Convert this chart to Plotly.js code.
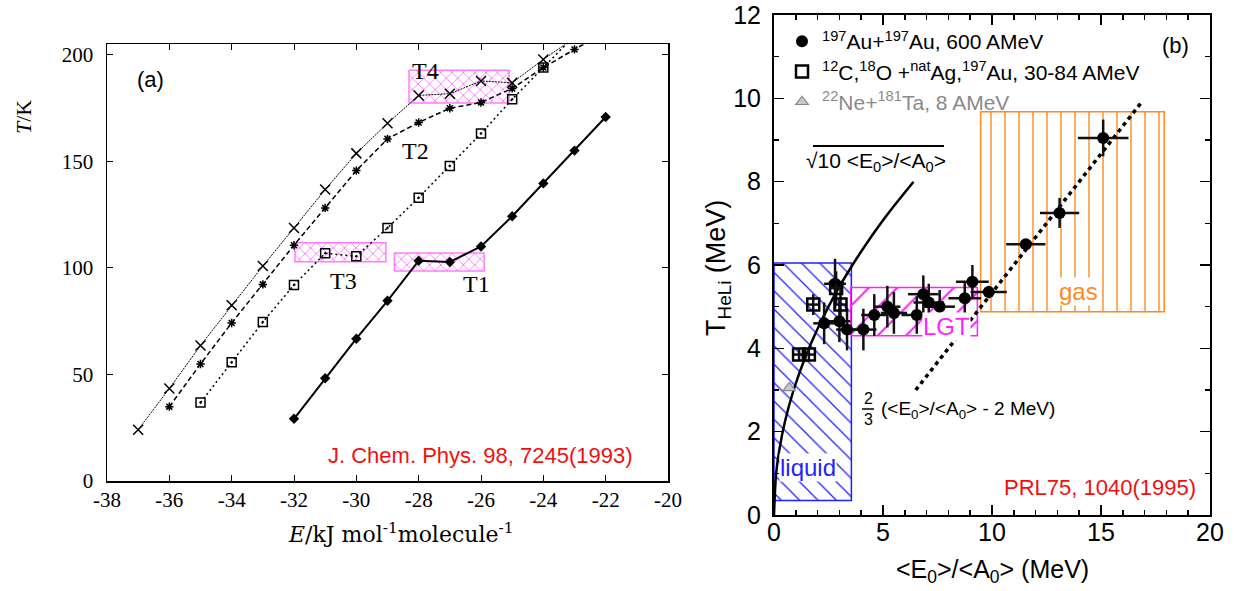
<!DOCTYPE html>
<html><head><meta charset="utf-8">
<script src="https://cdn.plot.ly/plotly-3.0.1.min.js"></script>
<style>html,body{margin:0;padding:0;background:#fff}</style>
</head><body><div id="chart" style="width:1236px;height:591px"></div>
<script>
// ================= Panel (a) data =================
const aEnergy = [-37,-36,-35,-34,-33,-32,-31,-30,-29,-28,-27,-26,-25,-24,-23,-22];
const aCrossT   = [24.1,43.4,63.6,82.5,100.9,118.8,136.8,153.8,167.9,181.0,181.8,187.8,186.9,197.9,208,null];
const aStarT    = [null,34.9,54.9,74.2,92.3,110.7,128.2,145.7,160.6,168.3,175.0,177.7,184.3,194.1,202.6,211];
const aSquareT  = [null,null,36.8,55.7,74.6,92.0,106.9,105.5,118.8,133.0,147.9,163.1,179.2,194.1,209,null];
const aDiamondT = [null,null,null,null,null,29.2,48.2,66.8,84.6,103.4,102.8,110.1,124.3,139.7,155.1,170.9];
const aTickVals = [-38,-36,-34,-32,-30,-28,-26,-24,-22,-20];
const aTickText = ["-38","-36","-34","-32","-30","-28","-26","-24","-22","-20"];
// hatched transition regions (E from, E to, T from, T to)
const aBoxName = ["T4","T3","T1"];
const aBoxE0 = [-28.31,-31.97,-28.78];
const aBoxE1 = [-25.10,-29.05,-25.90];
const aBoxT0 = [177.4,102.9,98.6];
const aBoxT1 = [192.8,111.9,107.0];
// labels
const aLabelText = ["T4","T2","T3","T1"];
const aLabelE = [-27.78,-28.09,-30.40,-26.14];
const aLabelT = [192.6,155.0,93.9,92.5];

// ================= Panel (b) data =================
const auX  = [2.3,2.8,3.0,3.35,4.1,4.6,5.2,5.5,6.55,6.85,7.1,7.6,8.75,9.1,9.85,11.55,13.1,15.1];
const auY  = [4.6,5.55,4.65,4.45,4.45,4.8,5.0,4.85,4.8,5.3,5.1,5.0,5.2,5.6,5.35,6.5,7.25,9.05];
const auXe = [0.5,0.5,0.5,0.5,0.6,0.6,0.6,0.6,0.7,0.7,0.7,0.7,0.75,0.75,0.83,0.9,0.9,1.16];
const auYe = [0.5,0.6,0.5,0.5,0.5,0.5,0.5,0.5,0.45,0.45,0.45,0.4,0.4,0.4,0.15,0.1,0.36,0.44];
const sqX  = [1.15,1.6,1.8,2.85,3.05];
const sqY  = [3.85,3.85,5.05,5.45,5.05];
const sqXe = [0.25,0.25,0.3,0.3,0.3];
const sqYe = [0.15,0.15,0.25,0.4,0.4];
const neX = [0.7];
const neY = [3.05];
const curveX = [0,0.1,0.25,0.5,0.9,1.4,2.0,2.5,3.0,3.6,4.2,4.9,5.6,6.4];
const curveY = [0,1.0,1.58,2.24,3.0,3.74,4.47,5.0,5.48,6.0,6.48,7.0,7.48,8.0];
const fitX = [6.5,16.85];
const fitY = [3.0,9.9];
// phase regions (x from, x to, y from, y to)
const bBoxName = ["liquid","LGT","gas"];
const bBoxX0 = [0.0,3.52,9.48];
const bBoxX1 = [3.55,9.33,17.9];
const bBoxY0 = [0.35,4.30,4.88];
const bBoxY1 = [6.05,5.46,9.68];
const bBoxColor = ["#1f1fff","#ff1fff","#ff8a1a"];
const bBoxPattern = ["\\","/","|"];
const bBoxLabelX = [1.55,7.92,13.96];
const bBoxLabelY = [1.13,4.52,5.36];

// ================= helpers (pixel -> paper) =================
const W = 1236, H = 591;
const px = x => x / W;
const py = y => 1 - y / H;
const serif = "Liberation Serif";
const wideSerif = "DejaVu Serif";
const sans = "Liberation Sans, Arial";

const traces = [];
traces.push({
  type: "bar", xaxis: "x", yaxis: "y", showlegend: false, hoverinfo: "skip",
  x: aBoxE0.map((v, i) => (v + aBoxE1[i]) / 2),
  width: aBoxE0.map((v, i) => aBoxE1[i] - v),
  base: aBoxT0,
  y: aBoxT0.map((v, i) => aBoxT1[i] - v),
  marker: { color: "#ff5cff", line: { color: "#ff7cff", width: 1.5 },
            pattern: { shape: "x", size: 8, solidity: 0.18, fillmode: "replace" } }
});
bBoxName.forEach((n, i) => {
  traces.push({
    type: "bar", xaxis: "x2", yaxis: "y2", showlegend: false, hoverinfo: "skip",
    x: [(bBoxX0[i] + bBoxX1[i]) / 2], width: [bBoxX1[i] - bBoxX0[i]],
    base: [bBoxY0[i]], y: [bBoxY1[i] - bBoxY0[i]],
    marker: { color: bBoxColor[i], line: { color: bBoxColor[i], width: 1.5 },
              pattern: { shape: bBoxPattern[i], size: i === 1 ? 20 : (i === 0 ? 13 : 14), solidity: 0.1, fillmode: "replace" } }
  });
});
traces.push({ x: aEnergy, y: aCrossT, xaxis: "x", yaxis: "y", mode: "lines+markers", showlegend: false,
  line: { color: "#000", width: 1, dash: "2px,1px" },
  marker: { symbol: "x-thin", size: 10, line: { color: "#000", width: 1.5 } } });
traces.push({ x: aEnergy, y: aStarT, xaxis: "x", yaxis: "y", mode: "lines+markers", showlegend: false,
  line: { color: "#000", width: 1.5, dash: "5px,3px" },
  marker: { symbol: "asterisk", size: 7, line: { color: "#000", width: 1.5 } } });
traces.push({ x: aEnergy, y: aSquareT, xaxis: "x", yaxis: "y", mode: "lines+markers", showlegend: false,
  line: { color: "#000", width: 1.5, dash: "2px,3px" },
  marker: { symbol: "square-open-dot", size: 9, color: "#000", line: { color: "#000", width: 1.5 } } });
traces.push({ x: aEnergy, y: aDiamondT, xaxis: "x", yaxis: "y", mode: "lines+markers", showlegend: false,
  line: { color: "#000", width: 2 },
  marker: { symbol: "diamond", size: 8, color: "#000" } });

traces.push({ x: curveX, y: curveY, xaxis: "x2", yaxis: "y2", mode: "lines", showlegend: false,
  line: { color: "#000", width: 2.5, shape: "spline" } });
traces.push({ x: fitX, y: fitY, xaxis: "x2", yaxis: "y2", mode: "lines", showlegend: false,
  line: { color: "#000", width: 3.5, dash: "4px,4px" } });
traces.push({ x: auX, y: auY, xaxis: "x2", yaxis: "y2", mode: "markers",
  name: "<sup>197</sup>Au+<sup>197</sup>Au, 600 AMeV",
  error_x: { type: "data", array: auXe, color: "#111", thickness: 2.5, width: 0 },
  error_y: { type: "data", array: auYe, color: "#111", thickness: 2.5, width: 0 },
  marker: { symbol: "circle", size: 12, color: "#000" } });
traces.push({ x: sqX, y: sqY, xaxis: "x2", yaxis: "y2", mode: "markers",
  name: "<sup>12</sup>C,<sup>18</sup>O +<sup>nat</sup>Ag,<sup>197</sup>Au, 30-84 AMeV",
  error_x: { type: "data", array: sqXe, color: "#111", thickness: 2.5, width: 0 },
  error_y: { type: "data", array: sqYe, color: "#111", thickness: 2.5, width: 0 },
  marker: { symbol: "square-open", size: 12, color: "#000", line: { color: "#000", width: 2.5 } } });
traces.push({ x: neX, y: neY, xaxis: "x2", yaxis: "y2", mode: "markers",
  name: "<span style='color:#8a8a8a'><sup>22</sup>Ne+<sup>181</sup>Ta, 8 AMeV</span>",
  marker: { symbol: "triangle-up", size: 11, color: "#c8c8c8", line: { color: "#888", width: 1.2 } } });

const annotations = [];
function note(x, y, text, font, extra) {
  annotations.push(Object.assign({ xref: "paper", yref: "paper", x: px(x), y: py(y), text: text,
    showarrow: false, xanchor: "center", yanchor: "middle", font: font }, extra || {}));
}
aLabelText.forEach((t, i) => annotations.push({ xref: "x", yref: "y", x: aLabelE[i], y: aLabelT[i],
  xanchor: "center", yanchor: "middle",
  text: t, showarrow: false, font: { family: serif, size: 24, color: "#000" } }));
note(150, 79, "(a)", { family: sans, size: 22, color: "#000" });
note(480, 455, "J. Chem. Phys. 98, 7245(1993)", { family: sans, size: 22, color: "#f01010" });
note(23, 117, "<i>T</i>/K", { family: serif, size: 22, color: "#000" }, { textangle: -90 });
note(400, 533, "<i>E</i>/kJ mol<sup>-1</sup>molecule<sup>-1</sup>", { family: wideSerif, size: 22, color: "#000" });

bBoxName.forEach((n, i) => annotations.push({ xref: "x2", yref: "y2", x: bBoxLabelX[i], y: bBoxLabelY[i],
  xanchor: "center", yanchor: "middle",
  text: n, showarrow: false, bgcolor: "#fff", borderpad: 0,
  font: { family: sans, size: 24, color: bBoxColor[i] } }));
note(876, 162, "√10 &lt;E<sub>0</sub>&gt;/&lt;A<sub>0</sub>&gt;", { family: sans, size: 21, color: "#000" });
note(868, 409, "2<br>3", { family: sans, size: 16, color: "#000" });
note(879, 410, "(&lt;E<sub>0</sub>&gt;/&lt;A<sub>0</sub>&gt; - 2 MeV)", { family: sans, size: 19, color: "#000" }, { xanchor: "left" });
note(1198, 487, "PRL75, 1040(1995)", { family: sans, size: 22, color: "#f01010" }, { xanchor: "right" });
note(1175, 45, "(b)", { family: sans, size: 22, color: "#000" });
note(718, 268, "T<sub>HeLi</sub> (MeV)", { family: sans, size: 27, color: "#000" }, { textangle: -90 });
note(992, 571, "&lt;E<sub>0</sub>&gt;/&lt;A<sub>0</sub>&gt; (MeV)", { family: sans, size: 25, color: "#000" });

const shapes = [
  { type: "line", xref: "paper", yref: "paper", x0: px(813), x1: px(944), y0: py(146), y1: py(146), line: { color: "#000", width: 2 } },
  { type: "line", xref: "paper", yref: "paper", x0: px(862), x1: px(874), y0: py(409), y1: py(409), line: { color: "#000", width: 1.5 } }
];

const axA = { showline: true, linecolor: "#000", linewidth: 1.5, mirror: "ticks", ticks: "inside",
  ticklen: 6, tickcolor: "#000", tickwidth: 1, showgrid: false, zeroline: false,
  tickfont: { family: serif, size: 21, color: "#000" } };
const axB = { showline: true, linecolor: "#000", linewidth: 2, mirror: "allticks", ticks: "inside",
  ticklen: 10, tickcolor: "#000", tickwidth: 1.5, showgrid: false, zeroline: false,
  tickfont: { family: sans, size: 25, color: "#000" } };

const layout = {
  width: W, height: H, margin: { l: 0, r: 0, t: 0, b: 0 },
  paper_bgcolor: "#fff", plot_bgcolor: "rgba(0,0,0,0)",
  barmode: "overlay", showlegend: true,
  xaxis: Object.assign({}, axA, { domain: [px(107), px(668)], range: [-38, -20], tickvals: aTickVals, ticktext: aTickText, anchor: "y", ticklabelstandoff: -1 }),
  yaxis: Object.assign({}, axA, { domain: [py(481), py(44.3)], range: [0, 205], tickvals: [0,50,100,150,200], anchor: "x", ticklabelstandoff: 8 }),
  xaxis2: Object.assign({}, axB, { domain: [px(774), px(1210)], range: [0, 20], dtick: 5, anchor: "y2", ticklabelstandoff: -6,
    minor: { dtick: 1, ticks: "inside", ticklen: 5, tickcolor: "#000", tickwidth: 1.5 } }),
  yaxis2: Object.assign({}, axB, { domain: [py(515), py(15)], range: [0, 12], dtick: 2, anchor: "x2", ticklabelstandoff: 6,
    minor: { dtick: 1, ticks: "inside", ticklen: 5, tickcolor: "#000", tickwidth: 1.5 } }),
  legend: { x: px(782), y: py(21), xanchor: "left", yanchor: "top", bgcolor: "rgba(0,0,0,0)",
    font: { family: sans, size: 21, color: "#000" }, itemwidth: 30, tracegroupgap: 0 },
  annotations: annotations, shapes: shapes
};

Plotly.newPlot("chart", traces, layout, { staticPlot: true });
</script>
</body></html>
